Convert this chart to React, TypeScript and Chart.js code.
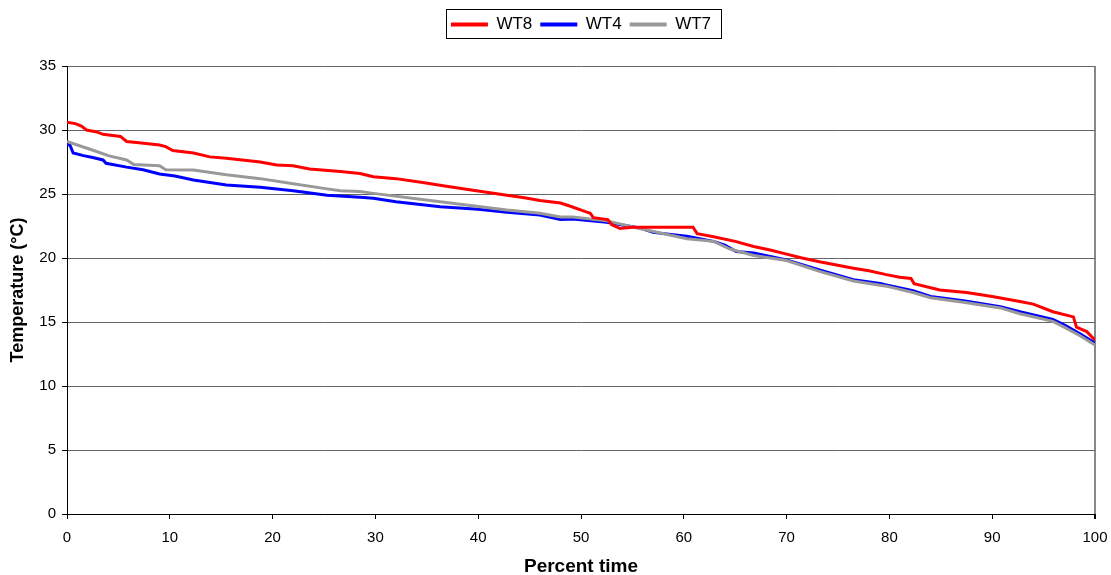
import { useEffect, useRef } from "react";
import { Chart, registerables } from "chart.js";

Chart.register(...registerables);

const seriesNames = ["WT8", "WT4", "WT7"];
const seriesColors = ["#FF0000", "#0000FF", "#999999"];

const wt8X = [0, 0.8, 1.4, 1.9, 2.9, 3.5, 5.2, 5.8, 7, 9, 9.6, 10.3, 12.3, 13.9, 15.5, 18.8, 20.4, 22, 23.6, 26.6, 28.5, 29.8, 32, 34.6, 36.9, 39.5, 42.8, 44.5, 46, 48, 48.9, 50.5, 50.9, 51.2, 52.6, 53, 53.8, 55, 60.9, 61.3, 62.9, 65, 66.8, 68.5, 70, 71.5, 73.2, 76.5, 78, 79.7, 81, 82.1, 82.4, 84.9, 87.5, 90, 92.7, 94, 95.9, 97.9, 98.2, 99.2, 99.8, 100];
const wt8Y = [30.6, 30.5, 30.3, 30.0, 29.85, 29.66, 29.5, 29.1, 29.0, 28.83, 28.7, 28.4, 28.2, 27.9, 27.8, 27.5, 27.27, 27.2, 26.95, 26.75, 26.6, 26.35, 26.2, 25.9, 25.6, 25.3, 24.9, 24.7, 24.5, 24.3, 24.06, 23.6, 23.5, 23.15, 23.0, 22.6, 22.3, 22.4, 22.4, 21.9, 21.66, 21.3, 20.9, 20.6, 20.3, 20.0, 19.7, 19.2, 19.0, 18.7, 18.5, 18.4, 18.0, 17.5, 17.3, 17.0, 16.6, 16.4, 15.8, 15.4, 14.6, 14.25, 13.75, 13.6];

const wt4X = [0, 0.3, 0.6, 1.6, 2.5, 3.5, 3.8, 5.8, 7.4, 9, 10.5, 12.3, 15.5, 18.8, 22, 25.3, 28.5, 29.8, 32, 36.3, 40, 42.8, 46, 48, 49.2, 52.5, 55.7, 57, 60.3, 62.9, 64, 65.1, 66.8, 70, 73.2, 76.5, 79.1, 79.7, 82.3, 84, 87.2, 90.8, 92.7, 95.9, 97, 98.5, 99.8, 100];
const wt4Y = [28.9, 28.8, 28.2, 28.0, 27.85, 27.66, 27.4, 27.1, 26.9, 26.56, 26.4, 26.1, 25.7, 25.52, 25.26, 24.9, 24.75, 24.66, 24.4, 24.0, 23.8, 23.57, 23.36, 23.0, 23.05, 22.8, 22.35, 22.0, 21.7, 21.3, 21.0, 20.5, 20.4, 19.85, 19.06, 18.3, 18.0, 17.9, 17.45, 17.0, 16.67, 16.2, 15.8, 15.2, 14.77, 14.1, 13.46, 13.4];

const wt7X = [0, 1, 2.6, 4, 5.8, 6.5, 9, 9.6, 12.3, 15.5, 18.8, 22, 25.3, 26.6, 28.5, 29.8, 36.3, 42.8, 46, 48, 49.2, 52.5, 55.7, 60.3, 62.9, 64.5, 66.8, 70, 73.2, 76.5, 79.7, 82.3, 84, 87.2, 90.8, 92.7, 95.9, 97, 98.5, 99.8, 100];
const wt7Y = [29.1, 28.83, 28.4, 28.0, 27.66, 27.3, 27.2, 26.9, 26.87, 26.5, 26.2, 25.8, 25.4, 25.26, 25.2, 25.05, 24.4, 23.75, 23.5, 23.2, 23.2, 22.9, 22.3, 21.5, 21.3, 20.7, 20.2, 19.8, 18.95, 18.2, 17.8, 17.3, 16.9, 16.55, 16.1, 15.65, 15.05, 14.6, 13.95, 13.3, 13.2];

const xMin = 0, xMax = 100, xStep = 10;
const yMin = 0, yMax = 35, yStep = 5;
const xTitle = "Percent time";
const yTitle = "Temperature (°C)";

const FONT = "'Liberation Sans', Arial, sans-serif";

function toPoints(xs: number[], ys: number[]) {
  return xs.map((x, i) => ({ x, y: ys[i] }));
}

export default function App() {
  const ref = useRef<HTMLCanvasElement>(null);

  useEffect(() => {
    document.body.style.margin = "0";
    if (!ref.current) return;

    const legendBorder = {
      id: "legendBorder",
      beforeLayout(chart: any) {
        const lg = chart.legend;
        if (lg && !lg._extraPatched) {
          const orig = lg.fit.bind(lg);
          lg.fit = function () {
            orig();
            this.height += 23;
          };
          lg._extraPatched = true;
        }
      },
      afterDraw(chart: any) {
        const lg = chart.legend;
        if (!lg || !lg.legendHitBoxes || !lg.legendHitBoxes.length) return;
        const boxes = lg.legendHitBoxes;
        const l = Math.min(...boxes.map((b: any) => b.left)) - 5;
        const r = Math.max(...boxes.map((b: any) => b.left + b.width)) + 10;
        const t = Math.min(...boxes.map((b: any) => b.top)) - 7;
        const bt = Math.max(...boxes.map((b: any) => b.top + b.height)) + 5;
        const ctx = chart.ctx;
        ctx.save();
        ctx.strokeStyle = "#000";
        ctx.lineWidth = 1;
        ctx.strokeRect(Math.round(l) + 0.5, Math.round(t) + 0.5, Math.round(r - l), Math.round(bt - t));
        ctx.restore();
      },
    };

    const allX = [wt8X, wt4X, wt7X];
    const allY = [wt8Y, wt4Y, wt7Y];
    const orders = [0, 2, 1];

    const chart = new Chart(ref.current, {
      type: "line",
      data: {
        datasets: seriesNames.map((name, i) => ({
          label: name,
          data: toPoints(allX[i], allY[i]),
          borderColor: seriesColors[i],
          backgroundColor: seriesColors[i],
          borderWidth: 3,
          pointRadius: 0,
          tension: 0,
          order: orders[i],
        })),
      },
      options: {
        responsive: false,
        animation: false,
        layout: { padding: { top: 8, left: 0, right: 16, bottom: 0 } },
        plugins: {
          tooltip: { enabled: false },
          legend: {
            position: "top",
            fullSize: false,
            labels: {
              font: { family: FONT, size: 17 },
              color: "#000",
              boxWidth: 37,
              boxHeight: 4,
              padding: 8,
              sort: (a: any, b: any) => a.datasetIndex - b.datasetIndex,
              generateLabels: (c: any) =>
                Chart.defaults.plugins.legend.labels
                  .generateLabels(c)
                  .map((it: any) => ({ ...it, lineWidth: 0 })),
            },
          },
        },
        scales: {
          x: {
            type: "linear",
            min: xMin,
            max: xMax,
            afterFit: (s: any) => {
              s.height = 61;
              s.paddingRight = 16;
              s.paddingLeft = 0;
            },
            ticks: {
              stepSize: xStep,
              color: "#000",
              font: { family: FONT, size: 15 },
              padding: 10,
              maxRotation: 0,
            },
            grid: {
              color: (c: any) => (c.tick && c.tick.value === xMax ? "#888888" : "rgba(0,0,0,0)"),
              lineWidth: (c: any) => (c.tick && c.tick.value === xMax ? 2 : 1),
              tickColor: "#000",
              tickLength: 5,
              drawOnChartArea: true,
            },
            border: { color: "#000", width: 1 },
            title: {
              display: true,
              text: xTitle,
              color: "#000",
              font: { family: FONT, size: 19, weight: "bold" },
              padding: { top: 0, bottom: -3 },
            },
          },
          y: {
            type: "linear",
            min: yMin,
            max: yMax,
            afterFit: (s: any) => { s.width = 67; },
            ticks: {
              stepSize: yStep,
              color: "#000",
              font: { family: FONT, size: 15 },
              padding: 6,
            },
            grid: {
              color: "#666666",
              lineWidth: 1,
              tickColor: "#000",
              tickLength: 5,
            },
            border: { color: "#000", width: 1 },
            title: {
              display: true,
              text: yTitle,
              color: "#000",
              font: { family: FONT, size: 18, weight: "bold" },
              padding: { top: 7, bottom: 0 },
            },
          },
        },
      },
      plugins: [legendBorder],
    });

    return () => chart.destroy();
  }, []);

  return (
    <div style={{ width: 1111, height: 575, background: "#fff" }}>
      <canvas ref={ref} width={1111} height={575} style={{ display: "block" }} />
    </div>
  );
}
